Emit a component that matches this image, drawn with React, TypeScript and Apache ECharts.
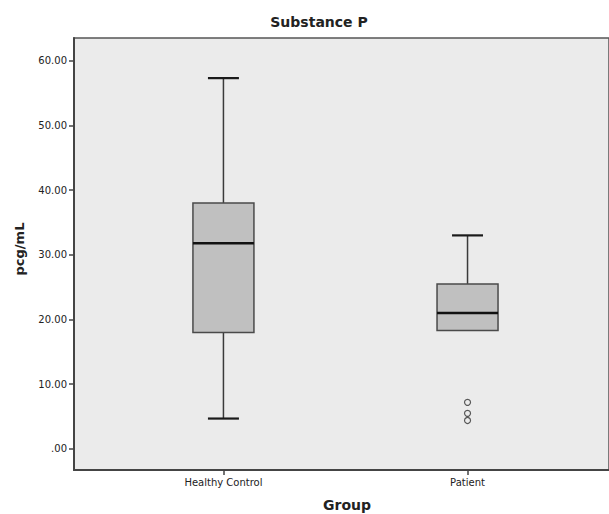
import React, { useEffect, useRef } from "react";
import * as echarts from "echarts";

const categories = ["Healthy Control", "Patient"];
const minVals = [4.7, 18.3];
const q1Vals = [18.0, 18.3];
const medianVals = [31.8, 21.0];
const q3Vals = [38.0, 25.5];
const maxVals = [57.3, 33.0];
const patientOutliers = [7.2, 5.5, 4.4];
const yTicks = [0, 10, 20, 30, 40, 50, 60];

const FONT = "'DejaVu Sans', sans-serif";

export default function App() {
  const ref = useRef<HTMLDivElement>(null);
  useEffect(() => {
    if (!ref.current) return;
    const chart = echarts.init(ref.current, undefined, { renderer: "svg" });
    const boxData = categories.map((_, i) => [i + 1, minVals[i], q1Vals[i], medianVals[i], q3Vals[i], maxVals[i]]);
    const outlierData = patientOutliers.map((v) => [2, v]);
    const option: any = {
      animation: false,
      backgroundColor: "#ffffff",
      title: {
        text: "Substance P",
        left: 314,
        top: 10,
        textAlign: "center",
        textStyle: { fontFamily: FONT, fontSize: 14, fontWeight: "bold", color: "#222" },
      },
      graphic: [
        {
          type: "text",
          x: 347,
          y: 505,
          style: {
            text: "Group",
            fontFamily: FONT,
            fontSize: 14,
            fontWeight: "bold",
            fill: "#222",
            textAlign: "center",
            textVerticalAlign: "middle",
          },
        },
        {
          type: "text",
          x: 19,
          y: 249,
          rotation: Math.PI / 2,
          style: {
            text: "pcg/mL",
            fontFamily: FONT,
            fontSize: 13,
            fontWeight: "bold",
            fill: "#222",
            textAlign: "center",
            textVerticalAlign: "middle",
          },
        },
      ],
      grid: {
        left: 74,
        top: 38,
        width: 537,
        height: 432,
        show: true,
        backgroundColor: "#ebebeb",
        borderColor: "#555",
        borderWidth: 1.5,
      },
      xAxis: {
        type: "value",
        min: 1 - 150 / 245,
        max: 2 + 142 / 245,
        splitLine: { show: false },
        axisLine: { show: true, onZero: false, lineStyle: { color: "#444", width: 2 } },
        axisTick: { show: true, customValues: [1, 2], length: 5, inside: false, lineStyle: { color: "#444", width: 1.5 } },
        axisLabel: {
          customValues: [1, 2],
          formatter: (v: number) => categories[Math.round(v) - 1] || "",
          fontFamily: FONT,
          fontSize: 10,
          color: "#222",
          margin: 7,
        },
      },
      yAxis: {
        type: "value",
        min: -3.25,
        max: 63.5,
        splitLine: { show: false },
        axisLine: { show: true, onZero: false, lineStyle: { color: "#444", width: 2 } },
        axisTick: { show: true, customValues: yTicks, length: 5, inside: false, lineStyle: { color: "#444", width: 1.5 } },
        axisLabel: {
          customValues: yTicks,
          formatter: (v: number) => (v === 0 ? ".00" : v.toFixed(2)),
          fontFamily: FONT,
          fontSize: 10,
          color: "#222",
          margin: 7,
        },
      },
      series: [
        {
          type: "custom",
          data: boxData,
          renderItem: (params: any, api: any) => {
            const x = api.value(0);
            const mn = api.value(1);
            const q1 = api.value(2);
            const md = api.value(3);
            const q3 = api.value(4);
            const mx = api.value(5);
            const pMin = api.coord([x, mn]);
            const pQ1 = api.coord([x, q1]);
            const pMd = api.coord([x, md]);
            const pQ3 = api.coord([x, q3]);
            const pMax = api.coord([x, mx]);
            const cx = pQ1[0];
            const hw = 30.5;
            const cw = 15.5;
            const lineStyle = { stroke: "#3a3a3a", lineWidth: 1.5 };
            const capStyle = { stroke: "#1a1a1a", lineWidth: 2.2 };
            const children: any[] = [
              { type: "line", shape: { x1: cx, y1: pQ3[1], x2: cx, y2: pMax[1] }, style: lineStyle },
              { type: "line", shape: { x1: cx - cw, y1: pMax[1], x2: cx + cw, y2: pMax[1] }, style: capStyle },
            ];
            if (mn < q1) {
              children.push(
                { type: "line", shape: { x1: cx, y1: pQ1[1], x2: cx, y2: pMin[1] }, style: lineStyle },
                { type: "line", shape: { x1: cx - cw, y1: pMin[1], x2: cx + cw, y2: pMin[1] }, style: capStyle }
              );
            }
            children.push(
              {
                type: "rect",
                shape: { x: cx - hw, y: pQ3[1], width: hw * 2, height: pQ1[1] - pQ3[1] },
                style: { fill: "#c0c0c0", stroke: "#4a4a4a", lineWidth: 1.5 },
              },
              { type: "line", shape: { x1: cx - hw, y1: pMd[1], x2: cx + hw, y2: pMd[1] }, style: { stroke: "#111", lineWidth: 2.5 } }
            );
            return { type: "group", children };
          },
          z: 2,
        },
        {
          type: "scatter",
          data: outlierData,
          symbol: "circle",
          symbolSize: 6,
          itemStyle: { color: "#ebebeb", borderColor: "#333", borderWidth: 1.2 },
          z: 3,
        },
      ],
    };
    chart.setOption(option);
    return () => chart.dispose();
  }, []);
  return <div ref={ref} style={{ position: "fixed", left: 0, top: 0, width: 609, height: 514 }} />;
}
